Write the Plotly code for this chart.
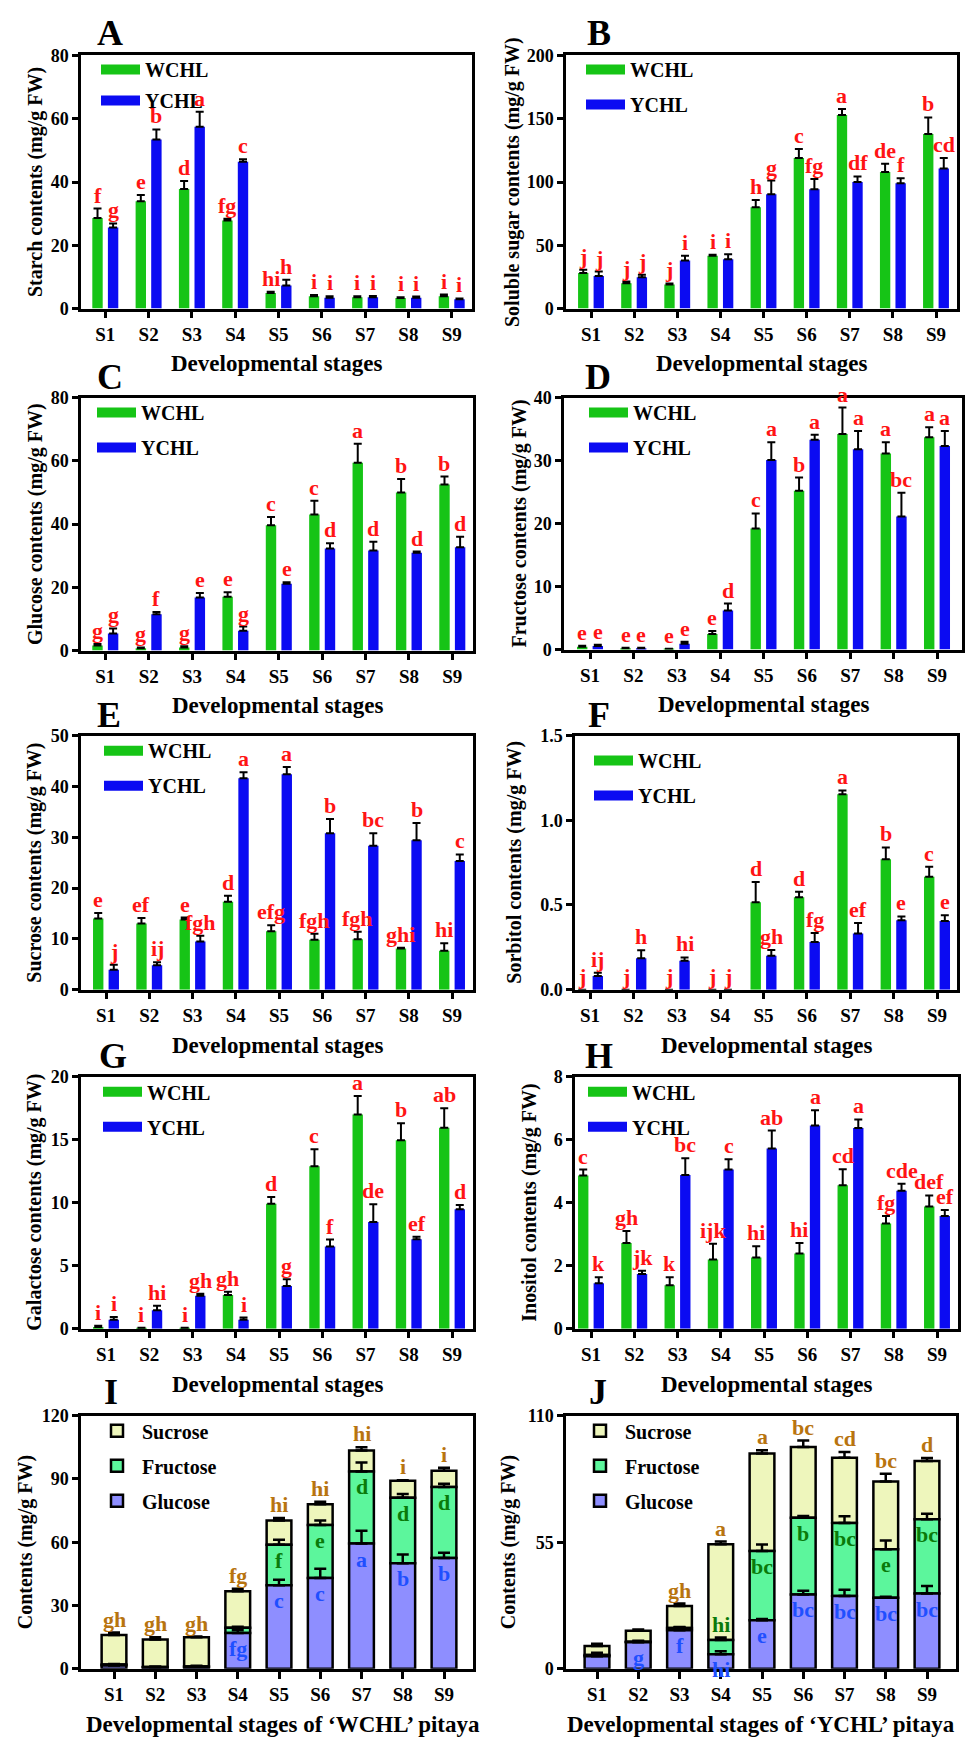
import plotly.graph_objects as go

FIG_W, FIG_H = 967, 1747
STAGES = ["S1", "S2", "S3", "S4", "S5", "S6", "S7", "S8", "S9"]
XPOS = [1, 2, 3, 4, 5, 6, 7, 8, 9]

# ---------------- data (mean, error) ----------------
# A Starch
A_W = [28.6, 33.9, 37.8, 27.8, 4.9, 3.9, 3.6, 3.3, 3.9]
A_W_ERR = [3.0, 2.0, 2.5, 0.6, 0.4, 0.4, 0.3, 0.3, 0.5]
A_Y = [25.6, 53.4, 57.5, 46.4, 7.3, 3.4, 3.6, 3.4, 2.9]
A_Y_ERR = [1.3, 3.2, 4.7, 0.8, 1.8, 0.5, 0.4, 0.4, 0.3]
A_W_LET = ["f", "e", "d", "fg", "hi", "i", "i", "i", "i"]
A_Y_LET = ["g", "b", "a", "c", "h", "i", "i", "i", "i"]
# B Soluble sugar
B_W = [28.1, 20.0, 19.0, 41.7, 80.0, 119.0, 152.9, 108.0, 138.0]
B_W_ERR = [2.6, 1.3, 0.8, 0.8, 5.7, 7.0, 4.7, 6.5, 13.0]
B_Y = [25.8, 24.7, 38.0, 39.0, 90.4, 94.3, 100.0, 99.0, 110.7]
B_Y_ERR = [3.4, 2.0, 3.7, 4.0, 10.7, 8.0, 4.4, 3.9, 8.3]
B_W_LET = ["j", "j", "j", "i", "h", "c", "a", "de", "b"]
B_Y_LET = ["j", "j", "i", "i", "g", "fg", "df", "f", "cd"]
# C Glucose
C_W = [1.6, 0.7, 1.0, 17.0, 39.6, 43.0, 59.4, 50.0, 52.5]
C_W_ERR = [0.5, 0.3, 0.4, 1.4, 2.6, 4.4, 6.0, 4.2, 2.5]
C_Y = [5.4, 11.5, 16.8, 6.3, 21.1, 32.3, 31.6, 30.9, 32.7]
C_Y_ERR = [1.6, 0.7, 1.4, 1.3, 0.5, 1.6, 2.8, 0.4, 3.3]
C_W_LET = ["g", "g", "g", "e", "c", "c", "a", "b", "b"]
C_Y_LET = ["g", "f", "e", "g", "e", "d", "d", "d", "d"]
# D Fructose
D_W = [0.47, 0.2, 0.1, 2.46, 19.2, 25.2, 34.2, 31.1, 33.7]
D_W_ERR = [0.15, 0.1, 0.05, 0.5, 2.4, 2.1, 4.2, 1.8, 1.6]
D_Y = [0.58, 0.2, 0.94, 6.2, 30.1, 33.3, 31.8, 21.1, 32.3]
D_Y_ERR = [0.2, 0.1, 0.3, 1.1, 2.8, 0.8, 2.9, 3.8, 2.4]
D_W_LET = ["e", "e", "e", "e", "c", "b", "a", "a", "a"]
D_Y_LET = ["e", "e", "e", "d", "a", "a", "a", "bc", "a"]
# E Sucrose
E_W = [14.0, 13.0, 13.8, 17.3, 11.5, 9.8, 9.9, 8.1, 7.65]
E_W_ERR = [1.1, 1.1, 0.4, 1.2, 1.2, 1.2, 1.5, 0.15, 1.5]
E_Y = [3.9, 4.8, 9.5, 41.6, 42.4, 30.8, 28.3, 29.4, 25.3]
E_Y_ERR = [1.0, 0.6, 1.1, 1.2, 1.4, 2.8, 2.5, 3.4, 1.3]
E_W_LET = ["e", "ef", "e", "d", "efg", "fgh", "fgh", "ghi", "hi"]
E_Y_LET = ["j", "ij", "fgh", "a", "a", "b", "bc", "b", "c"]
# F Sorbitol
F_W = [0, 0, 0, 0, 0.516, 0.545, 1.153, 0.77, 0.666]
F_W_ERR = [0, 0, 0, 0, 0.12, 0.033, 0.023, 0.07, 0.06]
F_Y = [0.08, 0.185, 0.17, 0, 0.2, 0.282, 0.331, 0.41, 0.405]
F_Y_ERR = [0.02, 0.047, 0.02, 0, 0.034, 0.053, 0.063, 0.022, 0.035]
F_W_LET = ["j", "j", "j", "j", "d", "d", "a", "b", "c"]
F_Y_LET = ["ij", "h", "hi", "j", "gh", "fg", "ef", "e", "e"]
# G Galactose
G_W = [0.13, 0.05, 0.05, 2.67, 9.92, 12.9, 17.0, 14.95, 15.94]
G_W_ERR = [0.1, 0.03, 0.03, 0.26, 0.53, 1.34, 1.46, 1.35, 1.56]
G_Y = [0.71, 1.47, 2.62, 0.71, 3.4, 6.52, 8.46, 7.1, 9.48]
G_Y_ERR = [0.23, 0.36, 0.15, 0.18, 0.53, 0.55, 1.41, 0.2, 0.34]
G_W_LET = ["i", "i", "i", "gh", "d", "c", "a", "b", "ab"]
G_Y_LET = ["i", "hi", "gh", "i", "g", "f", "de", "ef", "d"]
# H Inositol
H_W = [4.86, 2.72, 1.38, 2.2, 2.26, 2.39, 4.55, 3.34, 3.88]
H_W_ERR = [0.19, 0.38, 0.25, 0.5, 0.36, 0.33, 0.51, 0.24, 0.35]
H_Y = [1.44, 1.74, 4.88, 5.05, 5.72, 6.45, 6.37, 4.38, 3.58]
H_Y_ERR = [0.19, 0.1, 0.53, 0.33, 0.57, 0.48, 0.27, 0.22, 0.19]
H_W_LET = ["c", "gh", "k", "ijk", "hi", "hi", "cd", "fg", "def"]
H_Y_LET = ["k", "jk", "bc", "c", "ab", "a", "a", "cde", "ef"]
# I / J stacked letters
I_TOP_LET = ["gh", "gh", "gh", "fg", "hi", "hi", "hi", "i", "i"]
I_FRU_LET = ["", "", "", "", "f", "e", "d", "d", "d"]
I_GLU_LET = ["", "", "", "fg", "c", "c", "a", "b", "b"]
J_TOP_LET = ["", "", "gh", "a", "a", "bc", "cd", "bc", "d"]
J_FRU_LET = ["", "", "", "hi", "bc", "b", "bc", "e", "bc"]
J_GLU_LET = ["", "g", "f", "hi", "e", "bc", "bc", "bc", "bc"]

# ---------------- style ----------------
FONT = "Liberation Serif"
GREEN = "#16C416"
BLUE = "#0B0BF2"
RED = "#FF1414"
SUC_FILL = "#EEF6BC"
FRU_FILL = "#5CF69C"
GLU_FILL = "#8E8EFF"
SUC_TXT = "#B8740F"
FRU_TXT = "#0A7A0A"
GLU_TXT = "#1F4FFF"
OFF_W, OFF_Y, BW = -0.30, 0.06, 0.24
SBW = 0.6


def fnt(size, color="black"):
    return dict(family=FONT, size=size, color=color, weight="bold")


fig = go.Figure()
layout = {}
annotations = []


def sfx(n):
    return "" if n == 1 else str(n)


def add_axes(n, box, ticks, ymax, ytickvals, ytitle, xtitle, ytitle_x, xtitle_dx=0, yfmt=None):
    l, t, r, b = box
    t1, t9 = ticks
    sp = (t9 - t1) / 8.0
    xr = [1 + (l - t1) / sp, 9 + (r - t9) / sp]
    s = sfx(n)
    common = dict(showline=True, linewidth=2.5, linecolor="black", mirror=True,
                  ticks="outside", tickwidth=2.5, tickcolor="black",
                  showgrid=False, zeroline=False, fixedrange=True)
    layout["xaxis" + s] = dict(domain=[l / FIG_W, r / FIG_W], range=xr, anchor="y" + s,
                               tickmode="array", tickvals=XPOS, ticktext=STAGES, ticklen=7,
                               tickfont=fnt(19), **common)
    ya = dict(domain=[1 - b / FIG_H, 1 - t / FIG_H], range=[0, ymax], anchor="x" + s,
              tickmode="array", tickvals=ytickvals, ticklen=6, tickfont=fnt(18), **common)
    if yfmt:
        ya["tickformat"] = yfmt
    layout["yaxis" + s] = ya
    # axis titles
    annotations.append(dict(text=xtitle, x=((l + r) / 2 + xtitle_dx) / FIG_W, y=1 - (b + 56) / FIG_H,
                            xref="paper", yref="paper", xanchor="center", yanchor="middle",
                            showarrow=False, font=fnt(23)))
    annotations.append(dict(text=ytitle, x=ytitle_x / FIG_W, y=1 - ((t + b) / 2) / FIG_H,
                            xref="paper", yref="paper", xanchor="center", yanchor="middle",
                            textangle=-90, showarrow=False, font=fnt(20)))


def add_legend(n, swatch_left, row1_y, gap, item_w=39, order="grouped"):
    key = "legend" + sfx(n)
    layout[key] = dict(x=(swatch_left - 5) / FIG_W, y=1 - (row1_y - 22.5) / FIG_H, xanchor="left",
                       yanchor="top", bgcolor="rgba(0,0,0,0)", font=fnt(20),
                       itemwidth=item_w, tracegroupgap=gap, traceorder=order)
    return key


def panel_letter(txt, cx, cy):
    annotations.append(dict(text=txt, x=cx / FIG_W, y=1 - (cy - 4) / FIG_H, xref="paper", yref="paper",
                            xanchor="center", yanchor="middle", showarrow=False, font=fnt(36)))


def grouped(n, w, we, y, ye, wl, yl, leg):
    s = sfx(n)
    for vals, errs, lets, name, color, off in [(w, we, wl, "WCHL", GREEN, OFF_W),
                                              (y, ye, yl, "YCHL", BLUE, OFF_Y)]:
        fig.add_trace(go.Bar(
            x=XPOS, y=vals, offset=off, width=BW, name=name, showlegend=False,
            marker=dict(color=color, line=dict(width=0)),
            error_y=dict(type="data", array=errs, arrayminus=[0] * len(errs), symmetric=False,
                         color="black", thickness=2, width=4),
            xaxis="x" + s, yaxis="y" + s))
        # legend entry drawn as a wide swatch
        fig.add_trace(go.Scatter(
            x=[None], y=[None], mode="lines", name=name,
            line=dict(color=color, width=13), xaxis="x" + s, yaxis="y" + s,
            legend=leg, legendgroup=f"g{n}{name}", hoverinfo="skip"))
        for xi, v, e, lt in zip(XPOS, vals, errs, lets):
            if lt:
                annotations.append(dict(text=lt, x=xi + off + BW / 2, y=v + e,
                                        xref="x" + s, yref="y" + s, xanchor="center",
                                        yanchor="bottom", showarrow=False, font=fnt(22, RED),
                                        borderpad=0))


def stacked(n, glu, glu_e, fru, fru_e, suc, suc_e, top_l, fru_l, glu_l, leg):
    s = sfx(n)
    cum_gf = [g + f for g, f in zip(glu, fru)]
    tot = [c + u for c, u in zip(cum_gf, suc)]
    specs = [("Sucrose", suc, suc_e, cum_gf, SUC_FILL),
             ("Fructose", fru, fru_e, glu, FRU_FILL),
             ("Glucose", glu, glu_e, [0] * 9, GLU_FILL)]
    for name, vals, errs, base, color in specs:
        fig.add_trace(go.Bar(
            x=XPOS, y=vals, base=base, width=SBW, name=name,
            marker=dict(color=color, line=dict(color="black", width=2.5)),
            error_y=dict(type="data", array=errs, arrayminus=[0] * 9, symmetric=False,
                         color="black", thickness=2.5, width=6),
            xaxis="x" + s, yaxis="y" + s, legend=leg, legendgroup=f"s{n}{name}"))
    for i, xi in enumerate(XPOS):
        if top_l[i]:
            annotations.append(dict(text=top_l[i], x=xi, y=tot[i] + suc_e[i], xref="x" + s,
                                    yref="y" + s, yanchor="bottom", showarrow=False,
                                    font=fnt(22, SUC_TXT), borderpad=0))
        if fru_l[i]:
            small = fru[i] < 8
            annotations.append(dict(text=fru_l[i], x=xi,
                                    y=cum_gf[i] + (fru_e[i] if small else 0),
                                    xref="x" + s, yref="y" + s,
                                    yanchor="bottom" if small else "top",
                                    yshift=0 if small else -2, showarrow=False,
                                    font=fnt(22, FRU_TXT), borderpad=0))
        if glu_l[i]:
            annotations.append(dict(text=glu_l[i], x=xi, y=glu[i], xref="x" + s, yref="y" + s,
                                    yanchor="top", yshift=-2, showarrow=False,
                                    font=fnt(22, GLU_TXT), borderpad=0))


DS = "Developmental stages"
UNIT = " contents (mg/g FW)"

# ---- A ----
add_axes(1, (81, 46, 472, 302), (105.3, 451.7), 80, [0, 20, 40, 60, 80], "Starch" + UNIT, DS, 35)
grouped(1, A_W, A_W_ERR, A_Y, A_Y_ERR, A_W_LET, A_Y_LET, add_legend(1, 101, 63, 2))
panel_letter("A", 110, 27)
# ---- B ----
add_axes(2, (566, 46, 957, 302), (591, 936), 200, [0, 50, 100, 150, 200], "Soluble sugar" + UNIT, DS, 512)
grouped(2, B_W, B_W_ERR, B_Y, B_Y_ERR, B_W_LET, B_Y_LET, add_legend(2, 586, 63, 6))
panel_letter("B", 599, 27)
# ---- C ----
add_axes(3, (81, 392, 473, 648), (105.3, 452.3), 80, [0, 20, 40, 60, 80], "Glucose" + UNIT, DS, 35)
grouped(3, C_W, C_W_ERR, C_Y, C_Y_ERR, C_W_LET, C_Y_LET, add_legend(3, 97, 410, 6))
panel_letter("C", 110, 375)
# ---- D ----
add_axes(4, (564, 392, 962, 647), (590, 937), 40, [0, 10, 20, 30, 40], "Fructose" + UNIT, DS, 520)
grouped(4, D_W, D_W_ERR, D_Y, D_Y_ERR, D_W_LET, D_Y_LET, add_legend(4, 589, 410, 6))
panel_letter("D", 598, 375)
# ---- E ----
add_axes(5, (81, 734, 473, 991), (106, 452), 50, [0, 10, 20, 30, 40, 50], "Sucrose" + UNIT, DS, 35)
grouped(5, E_W, E_W_ERR, E_Y, E_Y_ERR, E_W_LET, E_Y_LET, add_legend(5, 104, 752, 6))
panel_letter("E", 109, 717)
# ---- F ----
add_axes(6, (575, 734, 957, 991), (590, 937), 1.5, [0, 0.5, 1.0, 1.5], "Sorbitol" + UNIT, DS, 515,
         yfmt=".1f")
grouped(6, F_W, F_W_ERR, F_Y, F_Y_ERR, F_W_LET, F_Y_LET, add_legend(6, 594, 762, 6))
panel_letter("F", 599, 717)
# ---- G ----
add_axes(7, (81, 1079, 473, 1334), (106, 452), 20, [0, 5, 10, 15, 20], "Galactose" + UNIT, DS, 35)
grouped(7, G_W, G_W_ERR, G_Y, G_Y_ERR, G_W_LET, G_Y_LET, add_legend(7, 103, 1097, 6))
panel_letter("G", 113, 1062)
# ---- H ----
add_axes(8, (575, 1079, 958, 1334), (591, 937), 8, [0, 2, 4, 6, 8], "Inositol" + UNIT, DS, 530)
grouped(8, H_W, H_W_ERR, H_Y, H_Y_ERR, H_W_LET, H_Y_LET, add_legend(8, 588, 1097, 6))
panel_letter("H", 599, 1062)
# ---- I ----
add_axes(9, (81, 1422, 473, 1678), (114, 444), 120, [0, 30, 60, 90, 120], "Contents (mg/g FW)",
         "Developmental stages of \u2018WCHL\u2019 pitaya", 25, xtitle_dx=6)
stacked(9, C_W, C_W_ERR, D_W, D_W_ERR, E_W, E_W_ERR, I_TOP_LET, I_FRU_LET, I_GLU_LET,
        add_legend(9, 97, 1440, 6, item_w=40))
panel_letter("I", 111, 1402)
# ---- J ----
add_axes(10, (566, 1422, 956, 1678), (597, 927), 110, [0, 55, 110], "Contents (mg/g FW)",
         "Developmental stages of \u2018YCHL\u2019 pitaya", 508)
stacked(10, C_Y, C_Y_ERR, D_Y, D_Y_ERR, E_Y, E_Y_ERR, J_TOP_LET, J_FRU_LET, J_GLU_LET,
        add_legend(10, 580, 1440, 6, item_w=40))
panel_letter("J", 598, 1402)

fig.update_layout(
    width=FIG_W, height=FIG_H, margin=dict(l=0, r=0, t=0, b=0),
    paper_bgcolor="white", plot_bgcolor="white", barmode="overlay",
    showlegend=True, annotations=annotations, font=fnt(18), **layout)

fig.write_html("out.html", config={"displayModeBar": False},
               post_script="document.body.style.margin='0px';")
